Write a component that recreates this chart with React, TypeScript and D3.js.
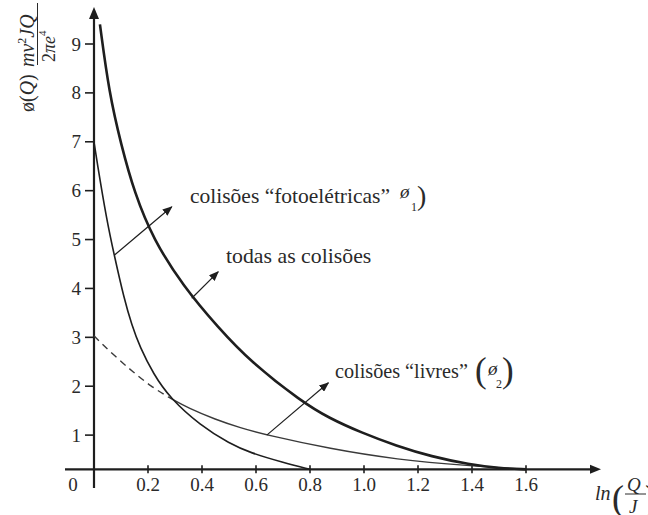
import React from 'react';
import * as d3 from 'd3';

const width = 648;
const height = 515;
const ink = '#1e1e1e';
const textInk = '#2a2a2a';
const serif = "'Liberation Serif', 'DejaVu Serif', serif";

// curve "todas as colisões"
const totalX = [0.022, 0.056, 0.10, 0.15, 0.22, 0.33, 0.46, 0.58, 0.77, 0.87, 0.99, 1.12, 1.25, 1.39, 1.5, 1.6];
const totalY = [9.4, 8.0, 6.95, 5.95, 5.0, 4.05, 3.2, 2.5, 1.68, 1.35, 1.05, 0.78, 0.56, 0.4, 0.32, 0.3];
// curve "fotoelétricas" (ø1)
const photoX = [0, 0.01, 0.047, 0.075, 0.111, 0.14, 0.17, 0.22, 0.281, 0.393, 0.504, 0.578, 0.7, 0.8];
const photoY = [7.0, 6.63, 5.4, 4.68, 3.8, 3.25, 2.8, 2.25, 1.76, 1.2, 0.82, 0.64, 0.44, 0.3];
// curve "livres" (ø2), dashed part then solid part
const freeDashX = [0, 0.07, 0.145, 0.21, 0.281];
const freeDashY = [3.03, 2.65, 2.29, 2.0, 1.76];
const freeX = [0.281, 0.35, 0.45, 0.541, 0.64, 0.874, 1.12, 1.39, 1.6];
const freeY = [1.76, 1.55, 1.32, 1.15, 1.0, 0.72, 0.5, 0.37, 0.3];

const xTicks = [0.2, 0.4, 0.6, 0.8, 1.0, 1.2, 1.4, 1.6];
const yTicks = [1, 2, 3, 4, 5, 6, 7, 8, 9];
const axisLevel = 0.3; // y value where the x axis sits

// annotation arrows [x0, y0, x1, y1] in data units
const arrows = [
  [0.075, 4.68, 0.288, 5.67],
  [0.362, 3.8, 0.46, 4.34],
  [0.64, 1.0, 0.868, 2.07],
];

const x = d3.scaleLinear().domain([0, 1.6]).range([94, 526]);
const y = d3.scaleLinear().domain([0, 9]).range([484, 44]);

const line = d3.line<[number, number]>()
  .x(d => x(d[0]))
  .y(d => y(d[1]))
  .curve(d3.curveBasis);

const zip = (xs: number[], ys: number[]) => xs.map((v, i) => [v, ys[i]] as [number, number]);

export default function App() {
  const x0 = x(0);
  const yAxis = y(axisLevel);
  return (
    <svg width={width} height={height} style={{ position: 'absolute', left: 0, top: 0, background: '#fff', fontFamily: serif }}
      fill={textInk}>
      <defs>
        <marker id="head" viewBox="0 0 10 8" refX="9" refY="4" markerWidth="10" markerHeight="8"
          markerUnits="userSpaceOnUse" orient="auto">
          <path d="M0,0 L10,4 L0,8 Z" fill={ink} />
        </marker>
      </defs>

      {/* axes */}
      <line x1={65} x2={592} y1={yAxis} y2={yAxis} stroke={ink} strokeWidth={2.2} />
      <path d={`M${601},${yAxis} L${590},${yAxis - 4.5} L${590},${yAxis + 4.5} Z`} fill={ink} />
      <line x1={x0} x2={x0} y1={488} y2={18} stroke={ink} strokeWidth={2.2} />
      <path d={`M${x0},${7} L${x0 - 5},${19} L${x0 + 5},${19} Z`} fill={ink} />

      {xTicks.map(t => (
        <g key={t}>
          <line x1={x(t)} x2={x(t)} y1={yAxis - 4} y2={yAxis + 4} stroke={ink} strokeWidth={1.6} />
          <text x={x(t)} y={491} fontSize={19} textAnchor="middle">{d3.format('.1f')(t)}</text>
        </g>
      ))}
      <text x={73} y={491} fontSize={19} textAnchor="middle">0</text>
      {yTicks.map(t => (
        <g key={t}>
          <line x1={x0 - 9} x2={x0} y1={y(t)} y2={y(t)} stroke={ink} strokeWidth={1.6} />
          <text x={81} y={y(t) + 6.5} fontSize={19} textAnchor="end">{t}</text>
        </g>
      ))}

      {/* curves */}
      <path d={line(zip(freeDashX, freeDashY)) || ''} fill="none" stroke="#3a3a3a" strokeWidth={1.4} strokeDasharray="7,5" />
      <path d={line(zip(freeX, freeY)) || ''} fill="none" stroke="#3a3a3a" strokeWidth={1.4} />
      <path d={line(zip(photoX, photoY)) || ''} fill="none" stroke={ink} strokeWidth={1.6} />
      <path d={line(zip(totalX, totalY)) || ''} fill="none" stroke={ink} strokeWidth={2.6} />

      {arrows.map((a, i) => (
        <line key={i} x1={x(a[0])} y1={y(a[1])} x2={x(a[2])} y2={y(a[3])} stroke={ink} strokeWidth={1.2}
          markerEnd="url(#head)" />
      ))}

      {/* labels */}
      <text x={190} y={203} fontSize={21.5}>colisões “fotoelétricas”</text>
      <text x={400} y={198} fontSize={19} fontStyle="italic">ø</text>
      <text x={411} y={211} fontSize={12}>1</text>
      <text x={417} y={205} fontSize={28}>)</text>

      <text x={226} y={263} fontSize={21.8}>todas as colisões</text>

      <text x={335} y={378} fontSize={20.2}>colisões “livres”</text>
      <text x={475} y={382} fontSize={35} fontWeight={300}>(</text>
      <text x={488} y={375} fontSize={19} fontStyle="italic">ø</text>
      <text x={496} y={388} fontSize={12}>2</text>
      <text x={502} y={382} fontSize={35} fontWeight={300}>)</text>

      {/* y axis title, rotated */}
      <g transform="rotate(-90)">
        <text x={-112} y={34} fontSize={20}>ø(<tspan fontStyle="italic">Q</tspan>)</text>
        <text x={-67} y={34} fontSize={20} fontStyle="italic">mv<tspan fontSize={12} dy={-8} fontStyle="normal">2</tspan><tspan dy={8}>JQ</tspan></text>
        <line x1={-65} x2={-3} y1={37.5} y2={37.5} stroke={textInk} strokeWidth={1} />
        <text x={-62} y={55} fontSize={18}>2<tspan fontStyle="italic">πe</tspan><tspan fontSize={11} dy={-9}>4</tspan></text>
      </g>

      {/* x axis title */}
      <text x={595} y={500} fontSize={20} fontStyle="italic">ln</text>
      <text x={612} y={510} fontSize={36} fontWeight={300}>(</text>
      <text x={627} y={491} fontSize={19} fontStyle="italic">Q</text>
      <line x1={625} x2={646} y1={494} y2={494} stroke={textInk} strokeWidth={1} />
      <text x={629} y={513} fontSize={19} fontStyle="italic">J</text>
      <text x={645} y={510} fontSize={36} fontWeight={300}>)</text>
    </svg>
  );
}
